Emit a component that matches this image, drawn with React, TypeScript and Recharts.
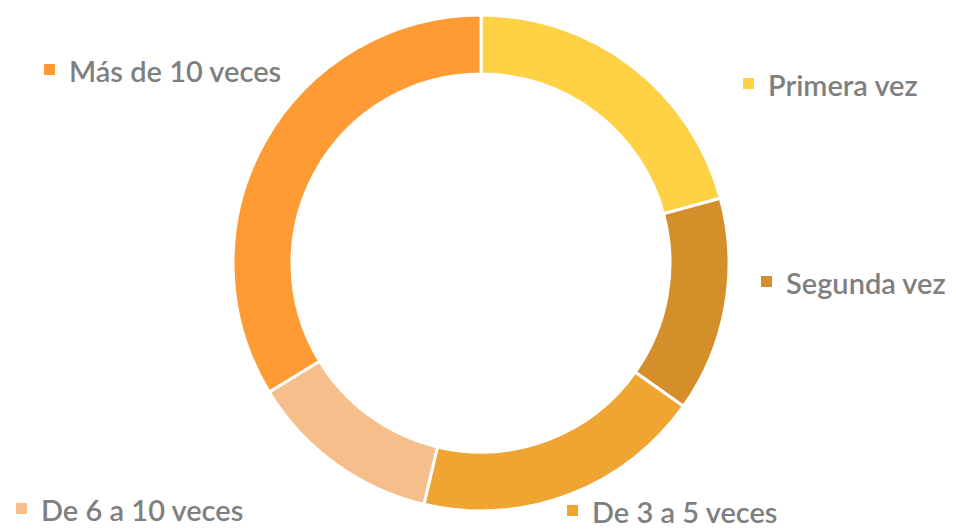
import React from "react";
import { PieChart, Pie, Cell } from "recharts";

const categories = ["Primera vez", "Segunda vez", "De 3 a 5 veces", "De 6 a 10 veces", "Más de 10 veces"];
const values = [20.8, 14.0, 18.9, 12.6, 33.7];
const colors = ["#FFD246", "#D48F2A", "#F0A431", "#F5BE8B", "#FF9B35"];

// label anchor offsets relative to the pie centre (layout only)
const labelOffsets = [
  { dx: 262, dy: -167 },
  { dx: 280, dy: 31 },
  { dx: 86, dy: 260 },
  { dx: -465, dy: 258 },
  { dx: -437, dy: -181 },
];

const data = categories.map((name, i) => ({ name, value: values[i] }));

const renderLabel = (props: any) => {
  const { cx, cy, index } = props;
  const off = labelOffsets[index];
  const mx = cx + off.dx;
  const by = cy + off.dy;
  return (
    <g key={`lbl-${index}`}>
      <rect x={mx} y={by - 18} width={11} height={11} fill={colors[index]} />
      <text
        x={mx + 25}
        y={by}
        fill="#7F7F7F"
        fontSize={29}
        fontFamily="Lato, 'Noto Sans', sans-serif"
        fontWeight={600}
        textAnchor="start"
      >
        {categories[index]}
      </text>
    </g>
  );
};

export default function App() {
  return (
    <div style={{ position: "absolute", left: 0, top: 0, width: 956, height: 529, background: "#fff" }}>
      <PieChart width={956} height={529} margin={{ top: 0, right: 0, bottom: 0, left: 0 }}>
        <Pie
          data={data}
          dataKey="value"
          nameKey="name"
          cx={481}
          cy={263}
          innerRadius={189}
          outerRadius={248}
          startAngle={90}
          endAngle={-270}
          stroke="#FFFFFF"
          strokeWidth={3}
          label={renderLabel}
          labelLine={false}
          isAnimationActive={false}
        >
          {data.map((d, i) => (
            <Cell key={d.name} fill={colors[i]} />
          ))}
        </Pie>
      </PieChart>
    </div>
  );
}
